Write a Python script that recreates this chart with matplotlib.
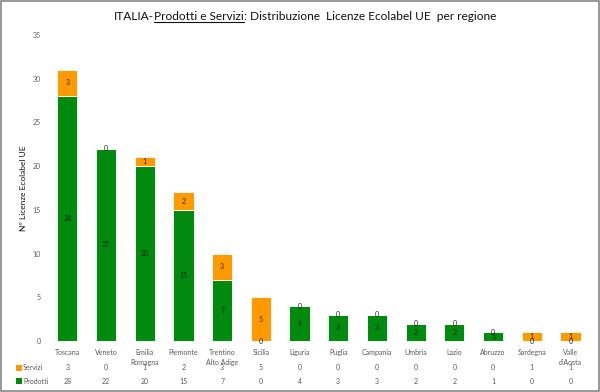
import matplotlib
matplotlib.use("Agg")
import matplotlib.pyplot as plt
from matplotlib.patches import Rectangle
from matplotlib.lines import Line2D
from matplotlib.transforms import blended_transform_factory
import numpy as np

categories = ["Toscana", "Veneto", "Emilia\nRomagna", "Piemonte", "Trentino\nAlto Adige",
              "Sicilia", "Liguria", "Puglia", "Campania", "Umbria", "Lazio", "Abruzzo",
              "Sardegna", "Valle\nd'Aosta"]
prodotti = [28, 22, 20, 15, 7, 0, 4, 3, 3, 2, 2, 1, 0, 0]
servizi = [3, 0, 1, 2, 3, 5, 0, 0, 0, 0, 0, 0, 1, 1]
yticks = [0, 5, 10, 15, 20, 25, 30, 35]

GREEN = "#008A0E"
ORANGE = "#FF9900"
GRAY = "#595959"
FONT = ["Lato", "DejaVu Sans"]
plt.rcParams["font.family"] = FONT

fig = plt.figure(figsize=(6.0, 3.92), dpi=100)
ax = fig.add_axes([0.08, 0.13, 0.903, 0.781])

x = np.arange(len(categories))
w = 0.52
ax.bar(x, prodotti, w, color=GREEN, edgecolor="white", linewidth=0.6, label="Prodotti")
ax.bar(x, servizi, w, bottom=prodotti, color=ORANGE, edgecolor="white", linewidth=0.6, label="Servizi")

for i in range(len(categories)):
    ax.text(x[i], prodotti[i] / 2, str(prodotti[i]), ha="center", va="center", fontsize=5, color="#222222")
    ax.text(x[i], prodotti[i] + servizi[i] / 2, str(servizi[i]), ha="center", va="center", fontsize=5, color="#222222")

ax.set_xlim(-0.5, len(categories) - 0.5)
ax.set_ylim(0, 35)
ax.set_yticks(yticks)
ax.set_yticklabels([str(v) for v in yticks], fontsize=5, color=GRAY)
ax.tick_params(axis="y", length=0, pad=5)
ax.set_xticks(x)
ax.set_xticklabels(categories, fontsize=5, color=GRAY, linespacing=1.5)
ax.tick_params(axis="x", length=0, pad=6)
for s in ax.spines.values():
    s.set_visible(False)
ax.set_ylabel("N° Licenze Ecolabel UE", fontsize=6, color="#111111", labelpad=4)

# data table rows
tr = blended_transform_factory(ax.transData, fig.transFigure)
row_y = {"Servizi": 1 - 368 / 392, "Prodotti": 1 - 381 / 392}
for name, vals in (("Servizi", servizi), ("Prodotti", prodotti)):
    for i, v in enumerate(vals):
        fig.text(x[i], row_y[name], str(v), transform=tr, ha="center", va="center", fontsize=5, color=GRAY)
    col = ORANGE if name == "Servizi" else GREEN
    fig.patches.append(Rectangle((16 / 600, row_y[name] - 3 / 392), 6 / 600, 6 / 392,
                                 transform=fig.transFigure, facecolor=col, edgecolor="none"))
    fig.text(23 / 600, row_y[name], name, ha="left", va="center", fontsize=5, color=GRAY)

# title with underlined middle part
parts = ["ITALIA-", "Prodotti e Servizi", ": Distribuzione  Licenze Ecolabel UE  per regione"]
ty = 1 - 16 / 392
texts = [fig.text(0, ty, p, fontsize=8.6, color="#111111", ha="left", va="center") for p in parts]
fig.canvas.draw()
r = fig.canvas.get_renderer()
widths = [t.get_window_extent(r).width for t in texts]
total = sum(widths)
start = (600 - total) / 2 + 5
cur = start
for t, wd in zip(texts, widths):
    t.set_position((cur / 600, ty))
    cur += wd
u0 = (start + widths[0]) / 600
u1 = (start + widths[0] + widths[1]) / 600
fig.lines.append(Line2D([u0, u1], [ty - 6 / 392, ty - 6 / 392], transform=fig.transFigure,
                        color="#111111", linewidth=0.8))

fig.patches.append(Rectangle((0.002, 0.003), 0.996, 0.994, transform=fig.transFigure,
                             facecolor="none", edgecolor="#888888", linewidth=1.2))

fig.savefig("out.png", dpi=100)
